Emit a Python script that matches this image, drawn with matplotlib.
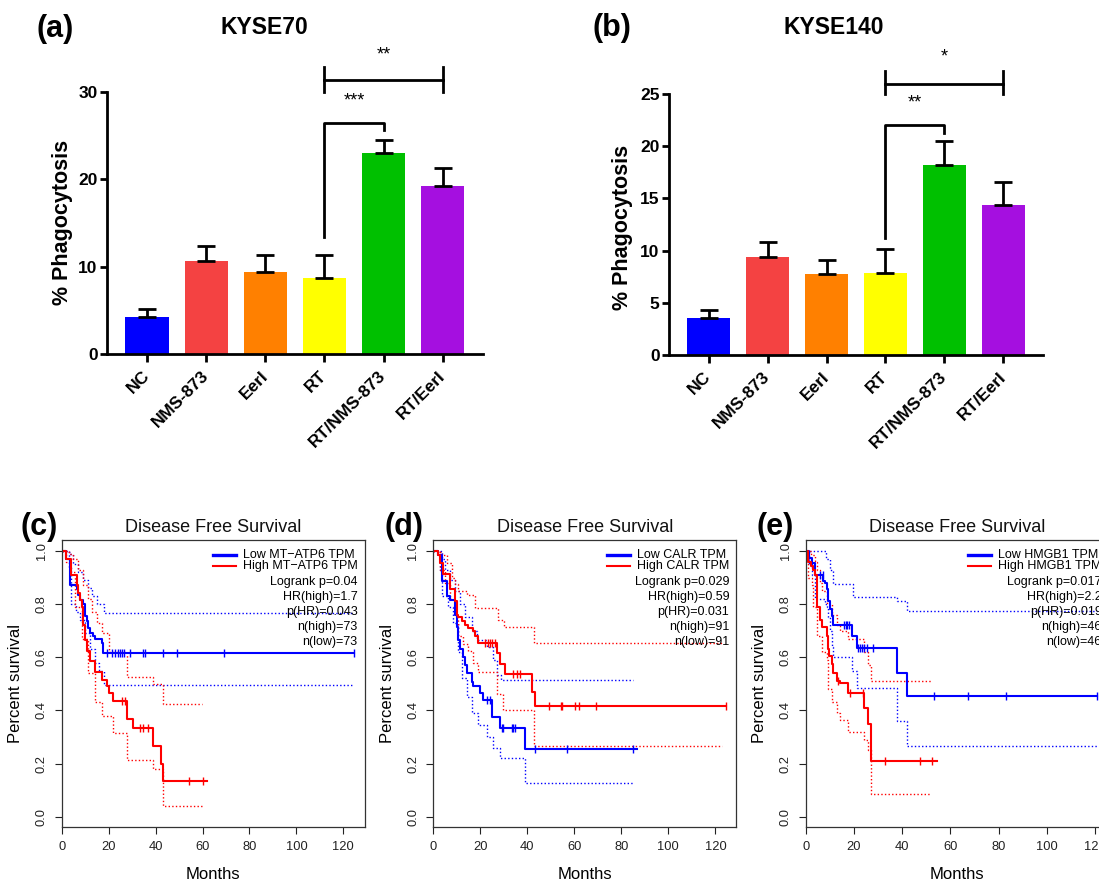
import numpy as np
import matplotlib
matplotlib.use("Agg")
import matplotlib.pyplot as plt

plt.rcParams['font.family'] = ['Liberation Sans', 'DejaVu Sans']

W, H = 1099, 881

# ---------------- bar charts (a), (b) ----------------
groups = ['NC', 'NMS-873', 'EerI', 'RT', 'RT/NMS-873', 'RT/EerI']
bar_colors = ['#0000FF', '#F44242', '#FF8000', '#FFFF00', '#00C000', '#A50FE0']

kyse70_mean = [4.2, 10.6, 9.4, 8.7, 23.0, 19.2]
kyse70_err = [1.0, 1.7, 1.9, 2.6, 1.5, 2.1]
kyse140_mean = [3.5, 9.4, 7.8, 7.9, 18.2, 14.4]
kyse140_err = [0.8, 1.4, 1.3, 2.3, 2.3, 2.2]

# significance: (group i, group j, leg bottom left, top, leg bottom right, label y, label)
kyse70_sig = [(3, 4, 13.4, 26.4, 25.6, 28.9, '***'),
              (3, 5, 30.0, 31.3, 30.0, 34.2, '**')]
kyse140_sig = [(3, 4, 11.2, 22.0, 21.3, 24.1, '**'),
               (3, 5, 25.0, 26.0, 25.0, 28.5, '*')]

# ---------------- survival curves (c), (d), (e) ----------------
# panel c : MT-ATP6
c_low_t = [0, 2, 3.5, 6.4, 7.1, 7.8, 9.2, 10, 10.7, 11.4, 12.1, 13.5, 14.2, 17, 17.8]
c_low_s = [1.0, 0.97, 0.87, 0.855, 0.835, 0.815, 0.80, 0.755, 0.735, 0.71, 0.69, 0.68, 0.67, 0.655, 0.616]
c_low_cens = [19.2, 21.3, 22.7, 24.1, 24.9, 25.6, 26.6, 29.1, 34.5, 35.5, 43.3, 49.3, 69.2, 124.6]
c_low_hi_t = [0, 3, 5, 7, 9, 11, 13, 15, 18]
c_low_hi_s = [1.0, 0.99, 0.95, 0.92, 0.89, 0.86, 0.83, 0.80, 0.765]
c_low_lo_t = [0, 3, 3.8, 6, 8, 10, 12, 14, 16, 18]
c_low_lo_s = [1.0, 0.94, 0.80, 0.77, 0.74, 0.69, 0.63, 0.58, 0.55, 0.495]
c_high_t = [0, 2, 4, 6.4, 7.1, 7.8, 8.5, 9.2, 10, 10.7, 12.1, 14.2, 17, 19.2, 20, 22, 27.7, 30.5, 39.1, 42.2, 43.3]
c_high_s = [1.0, 0.97, 0.91, 0.87, 0.84, 0.815, 0.79, 0.72, 0.665, 0.625, 0.585, 0.545, 0.515, 0.49, 0.465,
            0.435, 0.366, 0.335, 0.266, 0.20, 0.134]
c_high_cens = [25.8, 27.0, 33.4, 34.5, 36.9, 54.3, 60.4]
c_high_hi_t = [0, 3, 5, 7, 9, 11, 13, 15, 17, 20, 28, 39, 43]
c_high_hi_s = [1.0, 0.99, 0.97, 0.93, 0.87, 0.82, 0.77, 0.73, 0.69, 0.62, 0.525, 0.50, 0.425]
c_high_lo_t = [0, 2, 3.6, 5.7, 8.5, 11.4, 14.2, 17, 22, 27.7, 39, 43.3]
c_high_lo_s = [1.0, 0.96, 0.92, 0.79, 0.67, 0.54, 0.43, 0.38, 0.315, 0.215, 0.18, 0.04]
c_ends = [124.6, 124.0, 61.8, 59.7]   # low, low CI, high, high CI

# panel d : CALR
d_low_t = [0, 2.1, 3.5, 5.7, 7.1, 9.2, 9.9, 10.6, 11.3, 12.8, 13.5, 14.2, 16.3, 17, 19.9, 21.3, 24.8, 28.4, 39]
d_low_s = [1.0, 0.985, 0.885, 0.83, 0.815, 0.76, 0.715, 0.665, 0.63, 0.60, 0.57, 0.54, 0.505, 0.49, 0.465,
           0.44, 0.375, 0.335, 0.253]
d_low_cens = [22.7, 24.1, 29.1, 29.8, 33.3, 34, 34.8, 43.3, 57, 85.1]
d_low_hi_t = [0, 3.5, 5, 7, 9.2, 11.3, 13.5, 16.3, 18.4, 22.7, 25.5, 27, 29]
d_low_hi_s = [1.0, 0.97, 0.93, 0.89, 0.85, 0.80, 0.75, 0.70, 0.665, 0.64, 0.59, 0.534, 0.516]
d_low_lo_t = [0, 2.8, 3.5, 6.4, 8.5, 10.6, 12.1, 14.2, 16.3, 19.1, 22.7, 25.5, 28.4, 39]
d_low_lo_s = [1.0, 0.93, 0.83, 0.79, 0.73, 0.62, 0.52, 0.45, 0.39, 0.345, 0.30, 0.26, 0.22, 0.125]
d_high_t = [0, 2.1, 2.8, 4.3, 7.1, 9.2, 9.9, 10.6, 12, 13.5, 14.9, 17, 17.7, 19.1, 27, 28.4, 30.5, 41.8, 43.3]
d_high_s = [1.0, 0.985, 0.955, 0.915, 0.855, 0.81, 0.76, 0.75, 0.735, 0.72, 0.71, 0.70, 0.68, 0.654, 0.616,
            0.575, 0.535, 0.47, 0.416]
d_high_cens = [22, 23.4, 24.1, 25.1, 26.2, 34, 35.5, 36.9, 49.2, 54.2, 54.9, 60.3, 62, 69.2, 124.5]
d_high_hi_t = [0, 3, 4.3, 5.7, 7.8, 9.2, 10.6, 14.2, 17.7, 27.7, 30, 43]
d_high_hi_s = [1.0, 0.99, 0.985, 0.955, 0.90, 0.875, 0.85, 0.835, 0.785, 0.74, 0.715, 0.654]
d_high_lo_t = [0, 2.8, 5, 7.1, 9.2, 10.6, 12.8, 14.9, 17, 19.1, 27, 29.8, 43]
d_high_lo_s = [1.0, 0.93, 0.88, 0.82, 0.76, 0.68, 0.65, 0.625, 0.58, 0.545, 0.46, 0.40, 0.265]
d_ends = [86.5, 85.0, 124.5, 123.0]

# panel e : HMGB1
e_low_t = [0, 1.5, 2.5, 3.9, 7.3, 8, 8.7, 9.4, 10.1, 10.8, 11.5, 19.1, 21.2, 37.8, 41.9]
e_low_s = [1.0, 0.975, 0.955, 0.91, 0.885, 0.88, 0.855, 0.81, 0.78, 0.755, 0.72, 0.68, 0.635, 0.54, 0.454]
e_low_cens = [5.9, 7.0, 15.9, 16.7, 17.3, 18, 21.9, 22.5, 23.2, 24.2, 25.3, 28, 53.4, 67.2, 83, 121]
e_low_hi_t = [0, 8.5, 10, 11.5, 19.5, 37.8, 41.9]
e_low_hi_s = [1.0, 0.97, 0.93, 0.875, 0.825, 0.81, 0.775]
e_low_lo_t = [0, 1.5, 2.5, 3.9, 8, 8.7, 9.4, 10.1, 10.8, 11.5, 19.1, 21.2, 37.8, 41.9]
e_low_lo_s = [1.0, 0.95, 0.91, 0.82, 0.80, 0.79, 0.75, 0.70, 0.64, 0.60, 0.55, 0.485, 0.36, 0.265]
e_high_t = [0, 0.8, 2.2, 3.2, 3.9, 4.6, 6, 6.6, 8.7, 9.1, 9.8, 10.8, 11.5, 12.9, 14.2, 17.7, 24.2, 25.7, 27.2]
e_high_s = [1.0, 0.96, 0.945, 0.93, 0.91, 0.79, 0.74, 0.714, 0.68, 0.63, 0.604, 0.573, 0.541, 0.51, 0.504,
            0.464, 0.41, 0.35, 0.21]
e_high_cens = [13.5, 18.4, 23.9, 33, 47.5, 52.5]
e_high_hi_t = [0, 2.2, 3.9, 4.6, 6, 6.6, 8.7, 10.8, 12.9, 14.2, 17.7, 24.2, 25.7, 27.2]
e_high_hi_s = [1.0, 0.985, 0.96, 0.93, 0.88, 0.85, 0.80, 0.76, 0.72, 0.70, 0.67, 0.62, 0.57, 0.51]
e_high_lo_t = [0, 1, 2.5, 3.2, 4.6, 6.6, 8.7, 9.4, 10.8, 12.9, 14.2, 17.7, 24.2, 25.7, 27.2]
e_high_lo_s = [1.0, 0.9, 0.87, 0.79, 0.68, 0.62, 0.59, 0.48, 0.43, 0.39, 0.365, 0.32, 0.29, 0.25, 0.085]
e_ends = [121.0, 121.0, 54.4, 52.0]

c_labels = ['Low MT\u2212ATP6 TPM', 'High MT\u2212ATP6 TPM']
d_labels = ['Low CALR TPM', 'High CALR TPM']
e_labels = ['Low HMGB1 TPM', 'High HMGB1 TPM']
c_stats = ['Logrank p=0.04', 'HR(high)=1.7', 'p(HR)=0.043', 'n(high)=73', 'n(low)=73']
d_stats = ['Logrank p=0.029', 'HR(high)=0.59', 'p(HR)=0.031', 'n(high)=91', 'n(low)=91']
e_stats = ['Logrank p=0.017', 'HR(high)=2.2', 'p(HR)=0.019', 'n(high)=46', 'n(low)=46']
c_xmax, d_xmax, e_xmax = 129.1, 128.9, 125.7

BLUE, RED = '#0000FF', '#FF0000'


def px_axes(fig, left, top, right, bottom):
    return fig.add_axes([left / W, 1 - bottom / H, (right - left) / W, (bottom - top) / H])


def bar_panel(ax, means, errs, ymax, ystep, sigs, ylab_xy):
    x = np.arange(len(groups))
    ax.bar(x, means, width=0.73, color=bar_colors, zorder=2)
    ax.errorbar(x, means, yerr=[np.zeros(len(errs)), errs], fmt='none', ecolor='black',
                elinewidth=2, capsize=6.5, capthick=2, zorder=3)
    ax.set_xlim(-0.67, 5.68)
    ax.set_ylim(0, ymax)
    for s in ['top', 'right']:
        ax.spines[s].set_visible(False)
    for s in ['left', 'bottom']:
        ax.spines[s].set_linewidth(2)
    yt = np.arange(0, ymax + 0.1, ystep)
    ax.set_yticks(yt, [f'{v:g}' for v in yt], fontweight='bold', fontsize=12.5)
    ax.set_xticks(x, groups, rotation=45, ha='right', va='center', rotation_mode='anchor',
                  fontweight='bold', fontsize=12.5)
    ax.tick_params(axis='y', length=5, width=2, pad=2)
    ax.tick_params(axis='x', length=6, width=2, pad=8)
    ax.set_ylabel('% Phagocytosis', fontweight='bold', fontsize=15.5)
    ax.yaxis.set_label_coords(*ylab_xy)
    for i, j, yl, yt_, yr, ytxt, lab in sigs:
        if j - i == 2:
            ax.plot([i, j], [yt_, yt_], color='black', lw=2, clip_on=False)
            ax.plot([i, i], [yl, 2 * yt_ - yl + 0.2], color='black', lw=2, clip_on=False)
            ax.plot([j, j], [yr, 2 * yt_ - yr + 0.2], color='black', lw=2, clip_on=False)
        else:
            ax.plot([i, i, j, j], [yl, yt_, yt_, yr], color='black', lw=2, clip_on=False)
        ax.text((i + j) / 2, ytxt, lab, ha='center', va='center', fontsize=13)


def step_at(times, surv, t):
    idx = np.searchsorted(times, t, side='right') - 1
    return np.asarray(surv)[idx]


def draw_step(ax, t, s, end, color, **kw):
    ax.step(list(t) + [end], list(s) + [s[-1]], where='post', color=color, **kw)


def surv_panel(ax, low, high, ends, labels, stats, xmax):
    lt, ls, lc, lht, lhs, llt, lls = low
    ht, hs, hc, hht, hhs, hlt, hls = high
    dot = dict(lw=1.0, linestyle=(0, (1, 1.6)))
    draw_step(ax, lht, lhs, ends[1], BLUE, **dot)
    draw_step(ax, llt, lls, ends[1], BLUE, **dot)
    draw_step(ax, hht, hhs, ends[3], RED, **dot)
    draw_step(ax, hlt, hls, ends[3], RED, **dot)
    draw_step(ax, lt, ls, ends[0], BLUE, lw=1.5)
    draw_step(ax, ht, hs, ends[2], RED, lw=1.5)
    ax.plot(lc, step_at(lt, ls, lc), ls='none', marker='|', ms=6, mew=1, color=BLUE)
    ax.plot(hc, step_at(ht, hs, hc), ls='none', marker='|', ms=6, mew=1, color=RED)

    ax.set_xlim(0, xmax)
    ax.set_ylim(-0.04, 1.04)
    ax.set_xticks(np.arange(0, 121, 20))
    yt = np.arange(0, 1.01, 0.2)
    ax.set_yticks(yt, [f'{v:.1f}' for v in yt], rotation=90, va='center')
    ax.tick_params(length=5, width=0.8, labelsize=9.3, colors='#222222')
    ax.tick_params(axis='x', pad=5)
    ax.tick_params(axis='y', pad=5)
    for s in ax.spines.values():
        s.set_linewidth(0.9)
        s.set_color('#333333')
    ax.text(0.5, 1 + 13 / 287, 'Disease Free Survival', transform=ax.transAxes, ha='center',
            va='center', fontsize=13, color='#111111')
    ax.set_xlabel('Months', fontsize=12)
    ax.xaxis.set_label_coords(0.5, -0.138)
    ax.set_ylabel('Percent survival', fontsize=12)
    ax.yaxis.set_label_coords(-0.128, 0.5)

    xr = 1 - 7 / 303
    rows = [14.7, 25.7, 41.4, 56.4, 71.4, 87.0, 101.4]
    ry = [1 - r / 287 for r in rows]
    fs = 9
    probe = ax.text(xr, ry[1], labels[1], transform=ax.transAxes, ha='right', va='center', fontsize=fs)
    fig.canvas.draw()
    bb = probe.get_window_extent().transformed(ax.transAxes.inverted())
    probe.remove()
    xl = bb.x0
    for k, (lab, col, lw) in enumerate(zip(labels, [BLUE, RED], [2.4, 1.5])):
        ax.text(xl, ry[k], lab, transform=ax.transAxes, ha='left', va='center', fontsize=fs)
        ax.plot([xl - 30 / 303, xl - 7 / 303], [ry[k], ry[k]], transform=ax.transAxes,
                color=col, lw=lw, clip_on=False)
    for k, st in enumerate(stats):
        ax.text(xr, ry[k + 2], st, transform=ax.transAxes, ha='right', va='center', fontsize=fs)


fig = plt.figure(figsize=(W / 100, H / 100), dpi=100)

ax_a = px_axes(fig, 107.3, 91.7, 483.0, 354.0)
bar_panel(ax_a, kyse70_mean, kyse70_err, 30, 10, kyse70_sig, (-0.090, 0.503))
ax_b = px_axes(fig, 669.3, 94.0, 1043.3, 355.0)
bar_panel(ax_b, kyse140_mean, kyse140_err, 25, 5, kyse140_sig, (-0.096, 0.487))

fig.text(36 / W, 1 - 29 / H, '(a)', fontsize=22, fontweight='bold', ha='left', va='center')
fig.text(593 / W, 1 - 28 / H, '(b)', fontsize=22, fontweight='bold', ha='left', va='center')
fig.text(264 / W, 1 - 27 / H, 'KYSE70', fontsize=16.5, fontweight='bold', ha='center', va='center')
fig.text(833.5 / W, 1 - 28 / H, 'KYSE140', fontsize=16.5, fontweight='bold', ha='center', va='center')

ax_c = px_axes(fig, 61.7, 540.3, 364.7, 827.3)
surv_panel(ax_c, (c_low_t, c_low_s, c_low_cens, c_low_hi_t, c_low_hi_s, c_low_lo_t, c_low_lo_s),
           (c_high_t, c_high_s, c_high_cens, c_high_hi_t, c_high_hi_s, c_high_lo_t, c_high_lo_s),
           c_ends, c_labels, c_stats, c_xmax)
ax_d = px_axes(fig, 433.3, 540.3, 736.3, 827.3)
surv_panel(ax_d, (d_low_t, d_low_s, d_low_cens, d_low_hi_t, d_low_hi_s, d_low_lo_t, d_low_lo_s),
           (d_high_t, d_high_s, d_high_cens, d_high_hi_t, d_high_hi_s, d_high_lo_t, d_high_lo_s),
           d_ends, d_labels, d_stats, d_xmax)
ax_e = px_axes(fig, 805.7, 540.3, 1108.7, 827.3)
surv_panel(ax_e, (e_low_t, e_low_s, e_low_cens, e_low_hi_t, e_low_hi_s, e_low_lo_t, e_low_lo_s),
           (e_high_t, e_high_s, e_high_cens, e_high_hi_t, e_high_hi_s, e_high_lo_t, e_high_lo_s),
           e_ends, e_labels, e_stats, e_xmax)

fig.text(20 / W, 1 - 527 / H, '(c)', fontsize=22, fontweight='bold', ha='left', va='center')
fig.text(385 / W, 1 - 527 / H, '(d)', fontsize=22, fontweight='bold', ha='left', va='center')
fig.text(757 / W, 1 - 527 / H, '(e)', fontsize=22, fontweight='bold', ha='left', va='center')

fig.savefig('out.png', dpi=100)
